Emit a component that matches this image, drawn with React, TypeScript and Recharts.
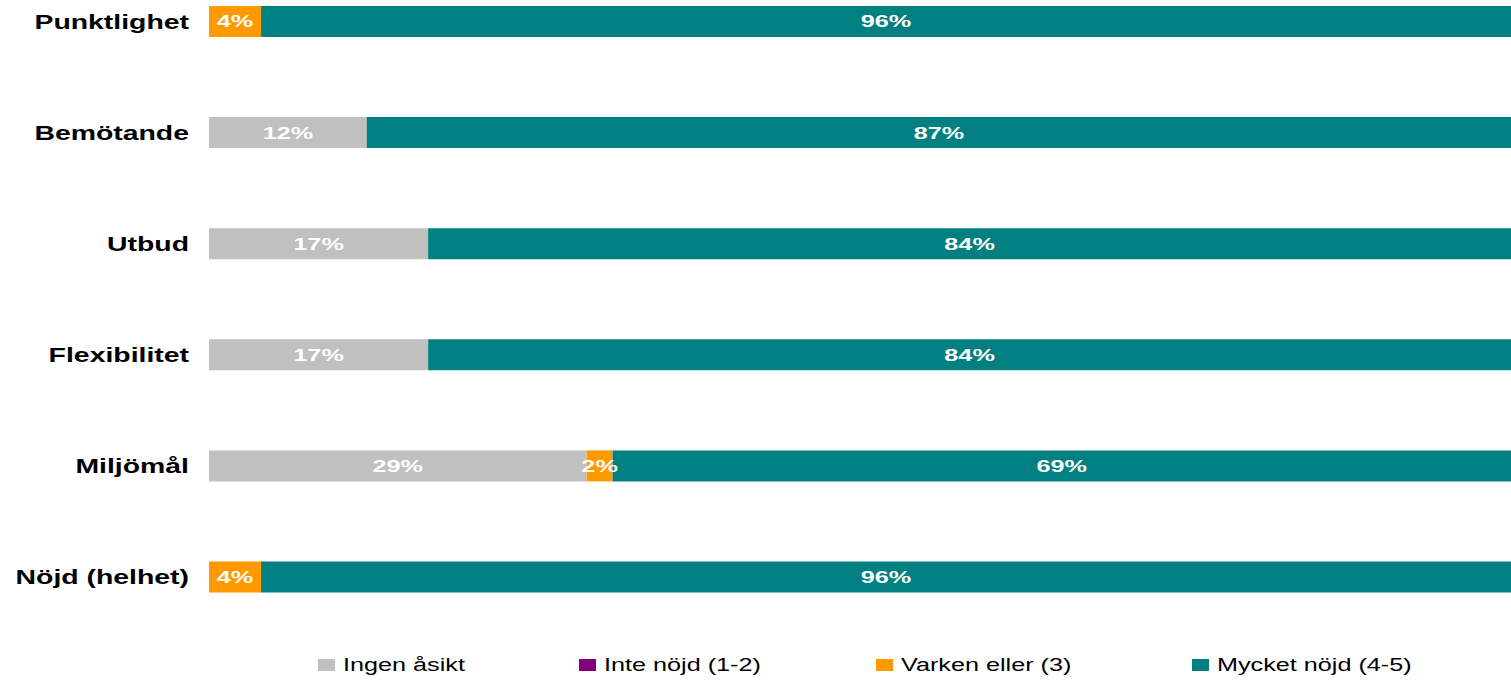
import React from 'react';
import { BarChart, Bar, XAxis, YAxis, Legend, LabelList } from 'recharts';

const categories = ['Punktlighet', 'Bemötande', 'Utbud', 'Flexibilitet', 'Miljömål', 'Nöjd (helhet)'];
const ingenAsikt = [0, 12, 17, 17, 29, 0];
const inteNojd = [0, 0, 0, 0, 0, 0];
const varkenEller = [4, 0, 0, 0, 2, 4];
const mycketNojd = [96, 87, 84, 84, 69, 96];

const series = [
  { key: 'ingen', name: 'Ingen åsikt', color: '#C0C0C0', values: ingenAsikt },
  { key: 'inte', name: 'Inte nöjd (1-2)', color: '#800080', values: inteNojd },
  { key: 'varken', name: 'Varken eller (3)', color: '#FF9900', values: varkenEller },
  { key: 'mycket', name: 'Mycket nöjd (4-5)', color: '#008080', values: mycketNojd },
];

const data = categories.map((name, i) => {
  const row: { [k: string]: string | number } = { name };
  series.forEach((s) => {
    row[s.key] = s.values[i];
  });
  return row;
});

const FONT = '"Liberation Sans", Arial, sans-serif';
// the reference is stretched sideways, so text gets a horizontal scale
const legendLeft = [318, 579, 876, 1192];

function CategoryTick({ x, y, payload }: any) {
  return (
    <g transform={`translate(${x},${y})`}>
      <text
        transform="scale(1.42,1)"
        textAnchor="end"
        dy="0.36em"
        fontSize={20}
        fontWeight="bold"
        fill="#000"
        fontFamily={FONT}
      >
        {payload.value}
      </text>
    </g>
  );
}

function BarLabel({ x, y, width, height, value }: any) {
  if (!value) return null;
  return (
    <g transform={`translate(${x + width / 2},${y + height / 2})`}>
      <text
        transform="scale(1.53,1)"
        textAnchor="middle"
        dy="0.36em"
        fontSize={16.5}
        fontWeight="bold"
        fill="#fff"
        fontFamily={FONT}
      >
        {value}%
      </text>
    </g>
  );
}

function LegendContent() {
  return (
    <div style={{ position: 'relative', width: 1511, height: 30, fontFamily: FONT }}>
      {series.map((s, i) => (
        <div
          key={s.key}
          style={{ position: 'absolute', left: legendLeft[i], top: 0, height: 30, display: 'flex', alignItems: 'center' }}
        >
          <span style={{ width: 17, height: 12, background: s.color, display: 'inline-block' }} />
          <span
            style={{
              marginLeft: 8,
              fontSize: 18,
              color: '#000',
              display: 'inline-block',
              transform: 'scale(1.4,1)',
              transformOrigin: 'left center',
              whiteSpace: 'nowrap',
            }}
          >
            {s.name}
          </span>
        </div>
      ))}
    </div>
  );
}

export default function App() {
  return (
    <div style={{ position: 'absolute', left: 0, top: -34, width: 1511, height: 714, overflow: 'visible' }}>
      <BarChart
        width={1511}
        height={714}
        data={data}
        layout="vertical"
        stackOffset="expand"
        margin={{ top: 0, right: 0, left: 0, bottom: 17.4 }}
      >
        <XAxis type="number" hide domain={[0, 1]} />
        <YAxis
          type="category"
          dataKey="name"
          width={209}
          axisLine={false}
          tickLine={false}
          tickSize={0}
          tickMargin={20}
          tick={<CategoryTick />}
          interval={0}
        />
        <Legend
          verticalAlign="bottom"
          content={<LegendContent />}
          wrapperStyle={{ left: 0, bottom: 0, width: 1511, height: 30 }}
        />
        {series.map((s) => (
          <Bar
            key={s.key}
            dataKey={s.key}
            name={s.name}
            stackId="a"
            fill={s.color}
            barSize={31}
            isAnimationActive={false}
            legendType="square"
          >
            <LabelList dataKey={s.key} content={<BarLabel />} />
          </Bar>
        ))}
      </BarChart>
    </div>
  );
}
